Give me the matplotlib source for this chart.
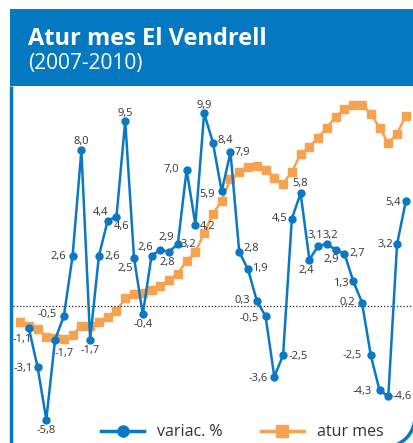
import matplotlib
matplotlib.use("Agg")
import matplotlib.pyplot as plt
from matplotlib.patches import Rectangle, Arc
from matplotlib.lines import Line2D

plt.rcParams['font.family'] = ['Open Sans', 'DejaVu Sans']

# dades mensuals El Vendrell
title = "Atur mes El Vendrell"
subtitle = "(2007-2010)"
series_names = ["variac. %", "atur mes"]

atur_mes = [1900, 1870, 1841, 1774, 1763, 1757, 1792, 1870, 1870, 1900,
            1949, 2001, 2108, 2143, 2153, 2178, 2217, 2272, 2325, 2438,
            2512, 2680, 2848, 2963, 3150, 3216, 3260, 3269, 3231, 3164,
            3111, 3216, 3368, 3435, 3513, 3601, 3697, 3767, 3799, 3799,
            3721, 3601, 3464, 3548, 3706]

variacio = [-1.1, -3.1, -5.8, -1.7, -0.5, 2.6, 8.0, -1.7, 2.6, 4.4,
            4.6, 9.5, 2.5, -0.4, 2.6, 2.9, 2.8, 3.2, 7.0, 4.2,
            9.9, 8.4, 5.9, 7.9, 2.8, 1.9, 0.3, -0.5, -3.6, -2.5,
            4.5, 5.8, 2.4, 3.1, 3.2, 2.9, 2.7, 1.3, 0.2, -2.5,
            -4.3, -4.6, 3.2, 5.4]

# posicio de cada etiqueta (pixels, x dreta / y avall)
label_off = [(-7, 12), (-14, 2), (0, 11), (9, 14), (-17, -2), (-14, 1), (0, -9), (0, 11), (13, 1), (-7, -8),
             (5, 10), (0, -8), (-9, 11), (0, 10), (-6, -8), (6, -12), (-2, 11), (11, 0), (-15, 0), (12, 2),
             (0, -8), (12, -2), (-15, 3), (12, 0), (12, -3), (12, -1), (-14, 0), (-16, 2), (-16, 2), (15, 1),
             (-12, 0), (0, -10), (-3, 11), (-3, -10), (3, -9), (-5, 10), (13, 0), (-12, 2), (-15, 0), (-19, 0),
             (-17, 1), (14, 0), (-12, 0), (-13, 1)]

BLUE = "#0a78c2"
ORANGE = "#f6a250"
HEADER = "#0479c1"

W, H = 414, 443
fig = plt.figure(figsize=(W / 100, H / 100), dpi=100)

# capcalera i marc
bg = fig.add_axes([0, 0, 1, 1], zorder=0)
bg.set_xlim(0, W)
bg.set_ylim(H, 0)
bg.axis('off')
bg.add_patch(Rectangle((10, 9), W - 10, 77, color=HEADER, lw=0))
bg.text(28, 44.5, title, color='white', fontsize=17, fontweight='bold', va='baseline')
bg.text(28, 68.5, subtitle, color='white', fontsize=15, va='baseline')
bg.plot([11.5, 11.5], [86, H], color=HEADER, lw=2.5, solid_capstyle='butt')
bg.add_patch(Arc((385, 417), 60, 60, theta1=0, theta2=90, color=HEADER, lw=2.5))

# atur mes (eix secundari, sense escala)
ax = fig.add_axes([0, 0, 1, (H - 86) / H], zorder=1)
ax.patch.set_visible(False)
ax.set_xlim(-2.28, 44.93)
ax.set_ylim(845, 3965)
ax.axis('off')
ax.plot(range(len(atur_mes)), atur_mes, color=ORANGE, lw=1.8, marker='s', ms=5.5)

# variacio %
ax2 = ax.twinx()
ax2.set_ylim(-7.0, 11.3)
ax2.axis('off')
ax2.axhline(0, xmin=13 / W, xmax=1, color='#222222', lw=0.9, ls=(0, (1, 1.6)))
x_var = list(range(1, len(variacio) + 1))
ax2.plot(x_var, variacio, color=BLUE, lw=1.8, marker='o', ms=5)
for x, v, (dx, dy) in zip(x_var, variacio, label_off):
    ax2.annotate(f"{v:.1f}".replace('.', ','), (x, v), xytext=(dx, -dy),
                 textcoords='offset pixels', ha='center', va='center',
                 fontsize=8, color='#333333', annotation_clip=False)

handles = [Line2D([], [], color=BLUE, lw=2.5, marker='o', ms=8),
           Line2D([], [], color=ORANGE, lw=2.5, marker='s', ms=8)]
fig.legend(handles, series_names, loc='center', bbox_to_anchor=(0.585, 0.024),
           ncol=2, frameon=False, fontsize=11.5, handlelength=2.7,
           handletextpad=0.8, columnspacing=2.4, labelcolor='#333333')

fig.savefig("out.png", dpi=100)
